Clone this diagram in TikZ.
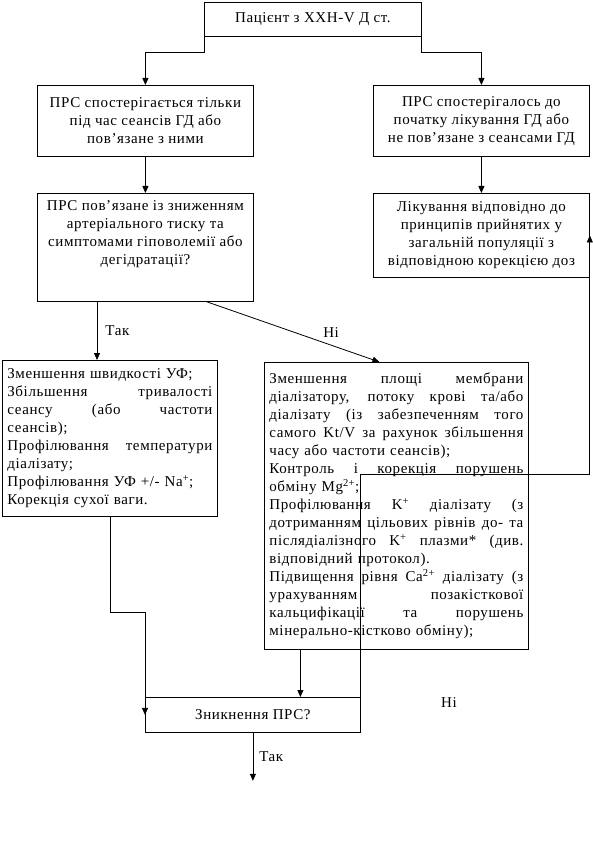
\documentclass[tikz,border=0pt]{standalone}
\usepackage{fontspec}
\setmainfont{Liberation Serif}[LetterSpace=4]
\usetikzlibrary{arrows.meta, positioning}

% justified line of fixed width
\newcommand{\jl}[2][254pt]{\leavevmode\hbox to #1{\spaceskip=.3em plus 1fil\xspaceskip=\spaceskip\relax #2}}

\begin{document}
\begin{tikzpicture}[
  x=1pt, y=-1pt,
  box/.style={draw, line width=0.8pt, rectangle, align=center, inner sep=4pt,
              font=\fontsize{15}{18}\selectfont},
  list/.style={box, align=left, inner xsep=5pt, inner ysep=6pt},
  lbl/.style={font=\fontsize{15}{18}\selectfont, inner sep=2pt},
  arr/.style={-{Triangle[length=7pt,width=6pt]}, line width=0.8pt}
]
\useasboundingbox (0,0) rectangle (593,842);

\node[box, anchor=north west, minimum width=217pt, minimum height=34pt] (pat) at (204,2)
  {Пацієнт з ХХН-V Д ст.};
\node[box, anchor=north west, minimum width=216pt, minimum height=71pt] (sym) at (37,85)
  {ПРС спостерігається тільки\\під час сеансів ГД або\\пов’язане з ними};
\node[box, anchor=north west, minimum width=216pt, minimum height=71pt] (nosym) at (373,85)
  {ПРС спостерігалось до\\початку лікування ГД або\\не пов’язане з сеансами ГД};
\node[box, anchor=north west, minimum width=216pt, minimum height=108pt, inner sep=7pt] (hypo) at (37,193)
  {\parbox[c][94pt][t]{202pt}{\centering ПРС пов’язане із зниженням\\артеріального тиску та\\симптомами гіповолемії або\\дегідратації?}};
\node[box, anchor=north west, minimum width=216pt, minimum height=84pt] (gen) at (373,193)
  {Лікування відповідно до\\принципів прийнятих у\\загальній популяції з\\відповідною корекцією доз};

\node[list, anchor=north west, text width=205pt, minimum height=156pt] (yes) at (2,360)
  {Зменшення швидкості УФ;\\
   \jl[205pt]{Збільшення тривалості}\\
   \jl[205pt]{сеансу (або частоти}\\
   сеансів);\\
   \jl[205pt]{Профілювання температури}\\
   діалізату;\\
   Профілювання УФ +/- Na\textsuperscript{+};\\
   Корекція сухої ваги.};
\node[list, anchor=north west, text width=254pt, minimum height=287pt] (nob) at (264,362)
  {\jl{Зменшення площі мембрани}\\
   \jl{діалізатору, потоку крові та/або}\\
   \jl{діалізату (із забезпеченням того}\\
   \jl{самого Kt/V за рахунок збільшення}\\
   часу або частоти сеансів);\\
   \jl{Контроль і корекція порушень}\\
   обміну Mg\textsuperscript{2+};\\
   \jl{Профілювання K\textsuperscript{+} діалізату (з}\\
   \jl{дотриманням цільових рівнів до- та}\\
   \jl{післядіалізного K\textsuperscript{+} плазми* (див.}\\
   відповідний протокол).\\
   \jl{Підвищення рівня Ca\textsuperscript{2+} діалізату (з}\\
   \jl{урахуванням позакісткової}\\
   \jl{кальцифікації та порушень}\\
   мінерально-кістково обміну);};

\node[box, anchor=north west, minimum width=215pt, minimum height=35pt] (gone) at (145,697)
  {Зникнення ПРС?};
\coordinate[below=48pt of gone.south] (exit);
\node[lbl] (no2) at (449,703) {Ні};

\coordinate (yesout) at ([xshift=60pt]hypo.south west);
\coordinate (noout) at ([xshift=-47pt]hypo.south east);
\coordinate (noin) at ([xshift=-17pt]nob.north);
\coordinate (nobout) at ([xshift=-96pt]nob.south);

\draw[arr] (pat.south west) -- ++(0,16) -| (sym.north);
\draw[arr] (pat.east) -- ++(0,33) -| (nosym.north);
\draw[arr] (sym) -- (hypo);
\draw[arr] (nosym) -- (gen);
\draw[arr] (yesout) -- node[lbl, right=6pt] {Так} (yesout |- yes.north);
\draw[arr] (noout) -- node[lbl, pos=0.72, above=5pt] {Ні} (noin);
\draw[arr] (yes.south) -- ++(0,96) -| (gone.west);
\draw[arr] (nobout) -- (nobout |- gone.north);
\draw[arr] (gone.north east) -- ++(0,-223) -| (gen.east);
\draw[arr] (gone) -- node[lbl, right=4pt] {Так} (exit);
\end{tikzpicture}
\end{document}
